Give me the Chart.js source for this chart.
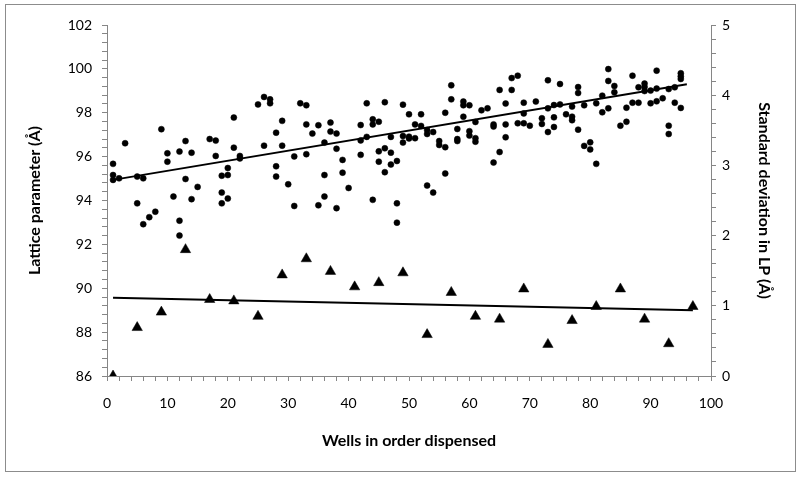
<!DOCTYPE html>
<html>
<head>
    <title>Lattice parameter by well</title>
    <script src="https://cdn.jsdelivr.net/npm/chart.js"></script>
    <style>
        body {
            margin: 0;
            background: #fff;
        }
        .frame {
            position: relative;
            width: 800px;
            height: 477px;
        }
        .border {
            position: absolute;
            left: 5px;
            top: 4px;
            width: 789px;
            height: 466px;
            border: 1px solid #8c8c8c;
            pointer-events: none;
        }
    </style>
</head>
<body>
    <div class="frame">
        <canvas id="chart" width="800" height="477"></canvas>
        <div class="border"></div>
    </div>

    <script>
        // Lattice parameter (Å) per well, one entry per measured crystal
        const latticeWells = [
            1, 1, 1, 2, 3, 5, 5, 6, 6, 7, 8, 9, 10, 10, 11, 12, 12, 12, 13, 13,
            14, 14, 15, 17, 18, 18, 19, 19, 19, 20, 20, 20, 21, 21, 22, 22, 25, 26, 26, 27,
            27, 28, 28, 28, 29, 29, 30, 31, 31, 32, 33, 33, 33, 34, 35, 35, 36, 36, 36, 37,
            37, 38, 38, 38, 39, 39, 40, 42, 42, 42, 43, 43, 44, 44, 44, 45, 45, 45, 46, 46,
            46, 47, 47, 47, 48, 48, 48, 49, 49, 49, 50, 50, 50, 51, 51, 52, 52, 53, 53, 53,
            54, 54, 55, 55, 56, 56, 56, 57, 57, 58, 58, 58, 59, 59, 59, 60, 60, 60, 61, 61,
            61, 62, 63, 64, 64, 64, 65, 65, 66, 66, 66, 67, 67, 68, 68, 69, 69, 69, 70, 71,
            72, 72, 73, 73, 73, 74, 74, 74, 75, 75, 76, 77, 77, 77, 78, 78, 78, 79, 79, 80,
            80, 81, 81, 82, 82, 83, 83, 83, 84, 84, 85, 86, 86, 87, 87, 88, 88, 89, 89, 89,
            90, 90, 91, 91, 91, 92, 93, 93, 93, 94, 94, 95, 95, 95, 95
        ];
        const latticeValues = [
            95.67, 95.16, 94.94, 95.01, 96.61, 95.09, 93.87, 95.01, 92.92, 93.24, 93.49, 97.25, 96.15, 95.77, 94.18, 96.23, 93.08, 92.40, 96.71, 94.98,
            96.18, 94.06, 94.62, 96.80, 96.73, 96.03, 95.13, 94.36, 93.87, 95.48, 95.16, 94.09, 97.78, 96.41, 96.03, 95.92, 98.38, 98.72, 96.50, 98.61,
            98.43, 97.09, 95.56, 95.09, 97.63, 96.50, 94.74, 96.01, 93.75, 98.43, 98.34, 97.47, 96.11, 97.05, 97.43, 93.78, 96.64, 95.16, 94.18, 97.55,
            97.14, 97.05, 96.36, 93.65, 95.85, 95.27, 94.57, 97.44, 96.74, 96.08, 98.43, 96.90, 97.70, 97.47, 94.03, 97.59, 96.24, 95.77, 98.48, 96.38,
            95.29, 96.90, 96.18, 95.64, 95.80, 93.87, 92.99, 98.37, 96.94, 96.64, 97.93, 96.91, 96.83, 97.47, 96.84, 97.93, 97.40, 97.21, 97.03, 94.68,
            97.12, 94.36, 96.71, 96.53, 98.00, 96.43, 95.23, 99.25, 98.61, 97.26, 96.80, 96.71, 98.51, 98.34, 97.82, 98.34, 97.16, 96.96, 97.58, 96.84,
            96.68, 98.11, 98.20, 97.47, 97.37, 95.73, 99.04, 96.21, 98.42, 97.47, 96.88, 99.58, 99.04, 99.69, 97.52, 98.46, 97.97, 97.52, 97.41, 98.51,
            97.75, 97.49, 99.48, 98.20, 97.12, 98.35, 97.79, 97.35, 99.31, 98.38, 97.93, 98.28, 97.82, 97.66, 99.17, 98.90, 97.23, 98.34, 96.49, 96.65,
            96.33, 98.43, 95.67, 98.78, 98.02, 99.99, 99.45, 98.20, 99.22, 98.93, 97.41, 98.23, 97.59, 99.69, 98.46, 99.16, 98.46, 99.33, 99.17, 98.99,
            99.01, 98.43, 99.92, 99.10, 98.52, 98.66, 99.08, 97.41, 97.03, 99.16, 98.46, 99.80, 99.66, 99.54, 98.22
        ];

        // Standard deviation in LP (Å), every fourth well
        const sdWells = [1, 5, 9, 13, 17, 21, 25, 29, 33, 37, 41, 45, 49, 53, 57, 61, 65, 69, 73, 77, 81, 85, 89, 93, 97];
        const sdValues = [0.00, 0.69, 0.91, 1.80, 1.09, 1.07, 0.85, 1.44, 1.67, 1.49, 1.27, 1.33, 1.47, 0.59, 1.19, 0.85, 0.81, 1.24, 0.45, 0.79, 0.99, 1.24, 0.81, 0.46, 0.99];

        // trend lines: ends in x and the values there
        const latticeTrendWells = [1, 96];
        const latticeTrendValues = [94.94, 99.30];
        const sdTrendWells = [1, 97];
        const sdTrendValues = [1.115, 0.936];

        // only label ticks that fall on the major unit
        function majorLabel(unit) {
            return function (value) {
                const k = Math.round(value / unit);
                return Math.abs(value - k * unit) < 1e-6 ? String(k * unit) : '';
            };
        }

        function toPoints(xs, ys) {
            return xs.map((x, i) => ({ x: x, y: ys[i] }));
        }

        const FONT = 'Lato, "Open Sans", sans-serif';
        const AXIS_GREY = '#868686';
        const tickFont = { family: FONT, size: 14 };
        const titleFont = { family: FONT, size: 16, weight: 'bold' };

        const ctx = document.getElementById('chart').getContext('2d');
        new Chart(ctx, {
            type: 'scatter',
            data: {
                datasets: [
                    {
                        label: 'Lattice parameter',
                        data: toPoints(latticeWells, latticeValues),
                        yAxisID: 'y',
                        pointStyle: 'circle',
                        pointRadius: 3,
                        borderWidth: 0.5,
                        backgroundColor: '#000',
                        borderColor: '#000'
                    },
                    {
                        label: 'Standard deviation',
                        data: toPoints(sdWells, sdValues),
                        yAxisID: 'y2',
                        pointStyle: 'triangle',
                        pointRadius: 6,
                        borderWidth: 0.5,
                        backgroundColor: '#000',
                        borderColor: '#000'
                    },
                    {
                        label: 'Lattice trend',
                        data: toPoints(latticeTrendWells, latticeTrendValues),
                        yAxisID: 'y',
                        showLine: true,
                        pointRadius: 0,
                        borderWidth: 2,
                        borderColor: '#000'
                    },
                    {
                        label: 'SD trend',
                        data: toPoints(sdTrendWells, sdTrendValues),
                        yAxisID: 'y2',
                        showLine: true,
                        pointRadius: 0,
                        borderWidth: 2,
                        borderColor: '#000'
                    }
                ]
            },
            options: {
                responsive: false,
                animation: false,
                layout: {
                    padding: { top: 25, left: 21, right: 22, bottom: 23 }
                },
                plugins: {
                    legend: { display: false },
                    tooltip: { enabled: false }
                },
                scales: {
                    x: {
                        type: 'linear',
                        min: 0,
                        max: 100,
                        ticks: {
                            stepSize: 2,
                            autoSkip: false,
                            maxRotation: 0,
                            padding: 14,
                            color: '#000',
                            font: tickFont,
                            callback: majorLabel(10)
                        },
                        grid: { drawOnChartArea: false, tickLength: 5, color: AXIS_GREY },
                        border: { color: AXIS_GREY },
                        title: {
                            display: true,
                            text: 'Wells in order dispensed',
                            color: '#000',
                            font: titleFont
                        },
                        afterFit: scale => { scale.height = 78; }
                    },
                    y: {
                        position: 'left',
                        min: 86,
                        max: 102,
                        ticks: {
                            stepSize: 0.4,
                            autoSkip: false,
                            padding: 10,
                            color: '#000',
                            font: tickFont,
                            callback: majorLabel(2)
                        },
                        grid: { drawOnChartArea: false, tickLength: 5, color: AXIS_GREY },
                        border: { color: AXIS_GREY },
                        title: {
                            display: true,
                            text: 'Lattice parameter (Å)',
                            color: '#000',
                            font: titleFont
                        },
                        afterFit: scale => { scale.width = 86; }
                    },
                    y2: {
                        position: 'right',
                        min: 0,
                        max: 5,
                        ticks: {
                            stepSize: 0.2,
                            autoSkip: false,
                            padding: 6,
                            color: '#000',
                            font: tickFont,
                            callback: majorLabel(1)
                        },
                        grid: { drawOnChartArea: false, tickLength: 5, color: AXIS_GREY },
                        border: { color: AXIS_GREY },
                        title: {
                            display: true,
                            text: 'Standard deviation in LP (Å)',
                            color: '#000',
                            font: titleFont
                        },
                        afterFit: scale => { scale.width = 67; }
                    }
                }
            }
        });
    </script>
</body>
</html>
